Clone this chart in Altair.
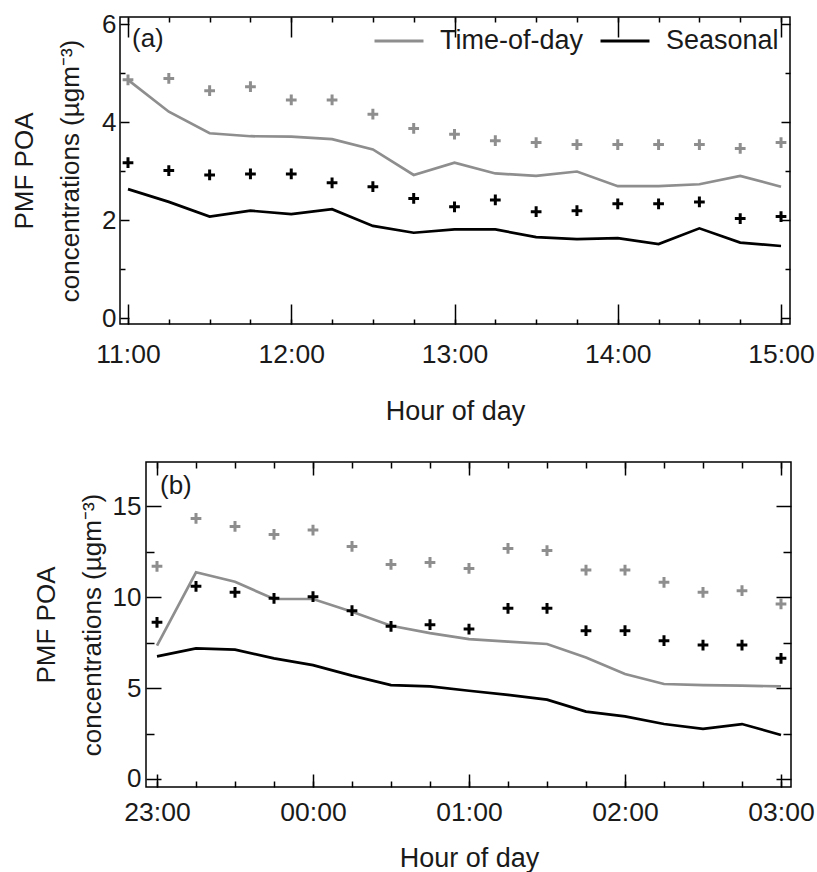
import altair as alt
import pandas as pd

# ---------------- data ----------------
times_a = ["11:00", "11:15", "11:30", "11:45", "12:00", "12:15", "12:30", "12:45", "13:00",
           "13:15", "13:30", "13:45", "14:00", "14:15", "14:30", "14:45", "15:00"]
times_b = ["23:00", "23:15", "23:30", "23:45", "00:00", "00:15", "00:30", "00:45", "01:00",
           "01:15", "01:30", "01:45", "02:00", "02:15", "02:30", "02:45", "03:00"]

series_names = ["Time-of-day", "Seasonal"]
panel_labels = ["(a)", "(b)"]
x_title = "Hour of day"
y_title = ["PMF POA", "concentrations (\u00b5gm\u207b\u00b3)"]

# panel (a)
a_tod_points = [4.86, 4.89, 4.64, 4.72, 4.45, 4.45, 4.16, 3.87, 3.75, 3.62, 3.58, 3.54, 3.54, 3.54, 3.54, 3.46, 3.58]
a_sea_points = [3.17, 3.01, 2.92, 2.94, 2.94, 2.76, 2.68, 2.44, 2.27, 2.41, 2.17, 2.19, 2.33, 2.33, 2.37, 2.03, 2.07]
a_tod_line = [4.86, 4.21, 3.77, 3.71, 3.70, 3.65, 3.44, 2.92, 3.17, 2.95, 2.90, 2.99, 2.69, 2.69, 2.73, 2.90, 2.68]
a_sea_line = [2.63, 2.37, 2.07, 2.19, 2.12, 2.22, 1.88, 1.74, 1.81, 1.81, 1.65, 1.61, 1.63, 1.51, 1.83, 1.54, 1.47]

# panel (b)
b_tod_points = [11.69, 14.32, 13.88, 13.44, 13.68, 12.78, 11.79, 11.90, 11.57, 12.67, 12.55, 11.48, 11.48, 10.81, 10.26, 10.35, 9.62]
b_sea_points = [8.61, 10.59, 10.26, 9.93, 10.02, 9.25, 8.39, 8.48, 8.24, 9.38, 9.38, 8.15, 8.15, 7.60, 7.36, 7.36, 6.63]
b_tod_line = [7.33, 11.36, 10.84, 9.89, 9.89, 9.19, 8.42, 8.02, 7.69, 7.55, 7.42, 6.68, 5.77, 5.22, 5.16, 5.13, 5.09]
b_sea_line = [6.74, 7.18, 7.11, 6.63, 6.26, 5.68, 5.16, 5.09, 4.85, 4.62, 4.36, 3.70, 3.44, 3.02, 2.75, 3.02, 2.42]

# axis ticks
a_x_major = ["11:00", "12:00", "13:00", "14:00", "15:00"]
b_x_major = ["23:00", "00:00", "01:00", "02:00", "03:00"]
a_y_major = [0, 2, 4, 6]
a_y_minor = [1, 3, 5]
b_y_major = [0, 5, 10, 15]
b_y_minor = [2.5, 7.5, 12.5]

# ---------------- style ----------------
FONT = "Liberation Sans"
TXT = "#1a1a1a"
GRAY = "#8e8e8e"
BLACK = "#000000"
CROSS = "M-1,0L1,0M0,-1L0,1"


def to_hours(t, wrap):
    h, m = t.split(":")
    v = int(h) + int(m) / 60.0
    if wrap and v < 12:
        v += 24
    return v


LABEL_EXPR = "(floor(datum.value) % 24 < 10 ? '0' : '') + toString(floor(datum.value) % 24) + ':00'"


def make_panel(times, tod_pts, sea_pts, tod_line, sea_line, label, st):
    wrap = st["wrap"]
    hrs = [to_hours(t, wrap) for t in times]
    xmaj = [to_hours(t, wrap) for t in st["x_major"]]
    xmin = hrs
    inset = st["inset"]  # left edge of the drawn frame inside the plot area

    xs = alt.Scale(domain=st["xdom"], nice=False, zero=False)
    ys = alt.Scale(domain=st["ydom"], nice=False, zero=False)
    cs = alt.Scale(domain=series_names, range=[GRAY, BLACK])

    def xaxis(orient, values, size, main):
        kw = dict(orient=orient, values=values, tickSize=size, offset=-size, domain=False,
                  grid=False, ticks=True, tickColor="black", tickWidth=1.5)
        if main:
            kw.update(labels=True, labelExpr=LABEL_EXPR, labelFont=FONT, labelFontSize=26.5,
                      labelColor=TXT, labelPadding=st["xlp"], labelFlush=False, labelOverlap=False,
                      titleFont=FONT, titleFontSize=27, titleFontWeight="normal",
                      titleColor=TXT, titlePadding=st["xtp"])
            if st.get("titlex") is not None:
                kw.update(titleX=st["titlex"])
        else:
            kw.update(labels=False)
        return alt.Axis(**kw)

    def yaxis(orient, values, size, main):
        off = -size - (inset if orient == "left" else 0)
        kw = dict(orient=orient, values=values, tickSize=size, offset=off, domain=False,
                  grid=False, ticks=True, tickColor="black", tickWidth=1.5)
        if main:
            kw.update(labels=True, format="d", labelFont=FONT, labelFontSize=26,
                      labelColor=TXT, labelPadding=st["ylp"], labelFlush=False, labelOverlap=False,
                      titleFont=FONT, titleFontSize=26, titleFontWeight="normal",
                      titleColor=TXT, titlePadding=st["ytp"], titleLineHeight=46)
        else:
            kw.update(labels=False)
        return alt.Axis(**kw)

    legend = alt.Legend(orient="none", legendX=st["legx"], legendY=st["legy"],
                        direction="horizontal", title=None, symbolType="stroke",
                        symbolSize=2400, symbolStrokeWidth=3, labelFont=FONT,
                        labelFontSize=27, labelColor=TXT, labelOffset=15,
                        columnPadding=10, padding=0, offset=0)

    df_tp = pd.DataFrame({"hour": hrs, "value": tod_pts})
    df_sp = pd.DataFrame({"hour": hrs, "value": sea_pts})
    df_tl = pd.DataFrame({"hour": hrs, "value": tod_line, "series": series_names[0]})
    df_sl = pd.DataFrame({"hour": hrs, "value": sea_line, "series": series_names[1]})

    p1 = alt.Chart(df_tp).mark_point(shape=CROSS, filled=False, size=115, strokeWidth=3,
                                     color=GRAY, opacity=1).encode(
        x=alt.X("hour:Q", scale=xs, axis=xaxis("bottom", xmaj, st["xM"], True), title=x_title),
        y=alt.Y("value:Q", scale=ys, axis=yaxis("left", st["y_major"], st["yM"], True), title=y_title),
    )
    p2 = alt.Chart(df_sp).mark_point(shape=CROSS, filled=False, size=115, strokeWidth=3,
                                     color=BLACK, opacity=1).encode(
        x=alt.X("hour:Q", scale=xs, axis=xaxis("bottom", xmin, st["xm"], False), title=None),
        y=alt.Y("value:Q", scale=ys, axis=yaxis("left", st["y_minor"], st["ym"], False), title=None),
    )
    l1 = alt.Chart(df_tl).mark_line(strokeWidth=2.7).encode(
        x=alt.X("hour:Q", scale=xs, axis=xaxis("top", xmaj, st["xM"], False), title=None),
        y=alt.Y("value:Q", scale=ys, axis=yaxis("right", st["y_major"], st["yM"], False), title=None),
        color=alt.Color("series:N", scale=cs, legend=legend),
    )
    l2 = alt.Chart(df_sl).mark_line(strokeWidth=2.7).encode(
        x=alt.X("hour:Q", scale=xs, axis=xaxis("top", xmin, st["xm"], False), title=None),
        y=alt.Y("value:Q", scale=ys, axis=yaxis("right", st["y_minor"], st["ym"], False), title=None),
        color=alt.Color("series:N", scale=cs, legend=legend),
    )
    txt = alt.Chart(pd.DataFrame({"label": [label]})).mark_text(
        font=FONT, fontSize=26, align="left", baseline="middle", color=TXT).encode(
        text="label:N", x=alt.value(st["lx"]), y=alt.value(st["ly"]))

    layers = []
    if inset > 0:
        # frame box of a panel whose plot area starts further right than its neighbour's
        frame = alt.Chart(pd.DataFrame({"f": [0]})).mark_rect(
            fillOpacity=0, stroke="black", strokeWidth=1.5).encode(
            x=alt.value(inset), x2=alt.value(st["w"]), y=alt.value(0), y2=alt.value(st["h"]))
        layers.append(frame)
    layers += [l1, l2, p1, p2, txt]
    if st.get("spacer") is not None:
        sp = alt.Chart(pd.DataFrame({"s": [0]})).mark_rule(opacity=0, strokeOpacity=0).encode(
            x=alt.value(st["spacer"]), x2=alt.value(st["spacer"] + 1), y=alt.value(st["h"] / 2))
        layers.append(sp)

    view = alt.ViewBackground(stroke="black" if inset == 0 else "transparent", strokeWidth=1.5)
    return alt.layer(*layers).resolve_axis(x="independent", y="independent").properties(
        width=st["w"], height=st["h"], view=view)


st_a = dict(wrap=False, x_major=a_x_major, y_major=a_y_major, y_minor=a_y_minor,
            xdom=[10.951, 15.055], ydom=[-0.122, 6.143], w=670, h=307, inset=0,
            xM=20, xm=5, yM=9, ym=5, xlp=17, xtp=31, ylp=4, ytp=18,
            legx=253, legy=-2, lx=12, ly=22, spacer=-150)
st_b = dict(wrap=True, x_major=b_x_major, y_major=b_y_major, y_minor=b_y_minor,
            xdom=[22.7628, 27.0641], ydom=[-0.44, 17.42], w=671, h=325, inset=26,
            xM=13, xm=6, yM=15, ym=8, xlp=12, xtp=20, ylp=5, ytp=7, titlex=349,
            legx=253, legy=0, lx=40, ly=24, spacer=None)

panel_a = make_panel(times_a, a_tod_points, a_sea_points, a_tod_line, a_sea_line, panel_labels[0], st_a)
panel_b = make_panel(times_b, b_tod_points, b_sea_points, b_tod_line, b_sea_line, panel_labels[1], st_b)

chart = alt.concat(panel_a, panel_b, columns=1, spacing=34).configure(font=FONT).properties(
    padding={"left": -31, "top": 10, "right": 0, "bottom": 0}, background="white")

chart.save("out.html", embed_options={"renderer": "svg", "actions": False})
